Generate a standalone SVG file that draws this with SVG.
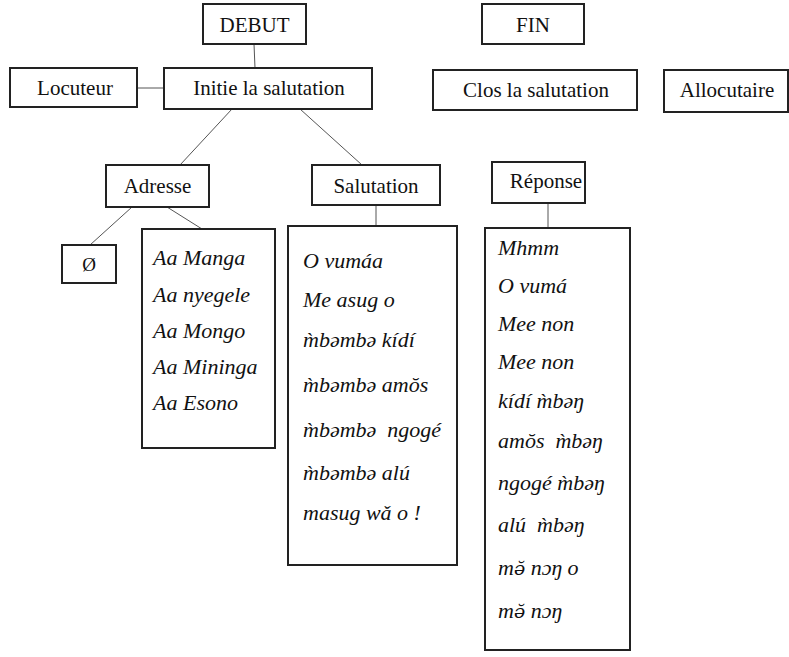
<svg xmlns="http://www.w3.org/2000/svg" width="789" height="657" viewBox="0 0 789 657">
<style>
.box{fill:#fff;stroke:#222;stroke-width:2}
.t{font-size:21px;fill:#111;text-anchor:middle}
.i{font-size:22px;font-style:italic;fill:#111;white-space:pre}
.c{stroke:#555;stroke-width:1;fill:none}
.d{font-family:"DejaVu Serif",serif;font-size:19px}
</style>
<rect width="789" height="657" fill="#fff"/>
<g id="connectors">
<line class="c" x1="254" y1="44" x2="255" y2="68"/>
<line class="c" x1="135" y1="88" x2="164" y2="88"/>
<line class="c" x1="232" y1="109" x2="180" y2="165"/>
<line class="c" x1="300" y1="109" x2="362" y2="165"/>
<line class="c" x1="132" y1="207" x2="90" y2="245"/>
<line class="c" x1="167" y1="207" x2="202" y2="229"/>
<line class="c" x1="376" y1="205" x2="376" y2="226"/>
<line class="c" x1="548" y1="203" x2="548" y2="228"/>
</g>
<g font-family="'Liberation Serif', 'Times New Roman', 'DejaVu Serif', serif">
<g id="debut"><rect class="box" x="203" y="4" width="103" height="40"/><text class="t" x="254.5" y="32">DEBUT</text></g>
<g id="fin"><rect class="box" x="482" y="4" width="102" height="40"/><text class="t" x="533" y="32">FIN</text></g>
<g id="locuteur"><rect class="box" x="10" y="68" width="127" height="39"/><text class="t" x="75" y="95">Locuteur</text></g>
<g id="initie"><rect class="box" x="164" y="68" width="208" height="41"/><text class="t" x="269" y="95">Initie la salutation</text></g>
<g id="clos"><rect class="box" x="433" y="70" width="204" height="40"/><text class="t" x="536" y="97">Clos la salutation</text></g>
<g id="allocutaire"><rect class="box" x="664" y="70" width="124" height="42"/><text class="t" x="727" y="97">Allocutaire</text></g>
<g id="adresse"><rect class="box" x="106" y="165" width="103" height="42"/><text class="t" x="157.5" y="193">Adresse</text></g>
<g id="salutation"><rect class="box" x="312" y="165" width="128" height="40"/><text class="t" x="376" y="193">Salutation</text></g>
<g id="reponse"><rect class="box" x="492" y="162" width="93" height="41"/><text class="t" x="546" y="188">Réponse</text></g>
<g id="vide"><rect class="box" x="62" y="245" width="54" height="38"/><text class="t" x="89" y="271" style="font-size:19px">Ø</text></g>
<g id="adresse-liste"><rect class="box" x="142" y="229" width="133" height="219"/>
<text class="i" x="153" y="265">Aa Manga</text>
<text class="i" x="153" y="302">Aa nyegele</text>
<text class="i" x="153" y="338">Aa Mongo</text>
<text class="i" x="153" y="374">Aa Mininga</text>
<text class="i" x="153" y="410">Aa Esono</text>
</g>
<g id="salutation-liste"><rect class="box" x="288" y="226" width="169" height="339"/>
<text class="i" x="303" y="268">O vumáa</text>
<text class="i" x="303" y="307">Me asug o</text>
<text class="i" x="303" y="347">m̀bəmbə kídí</text>
<text class="i" x="303" y="392">m̀bəmbə amŏs</text>
<text class="i" x="303" y="437">m̀bəmbə  ngogé</text>
<text class="i" x="303" y="480">m̀bəmbə alú</text>
<text class="i" x="303" y="520">masug wǎ o !</text>
</g>
<g id="reponse-liste"><rect class="box" x="485" y="228" width="145" height="422"/>
<text class="i" x="498" y="255">Mhmm</text>
<text class="i" x="498" y="293">O vumá</text>
<text class="i" x="498" y="331">Mee non</text>
<text class="i" x="498" y="369">Mee non</text>
<text class="i" x="498" y="408">kídí m̀bəŋ</text>
<text class="i" x="498" y="448">amŏs  m̀bəŋ</text>
<text class="i" x="498" y="490">ngogé m̀bəŋ</text>
<text class="i" x="498" y="532">alú  m̀bəŋ</text>
<text class="i" x="498" y="575">m<tspan class="d">ə̆</tspan> nɔŋ o</text>
<text class="i" x="498" y="618">m<tspan class="d">ə̆</tspan> nɔŋ</text>
</g>
</g>
</svg>
